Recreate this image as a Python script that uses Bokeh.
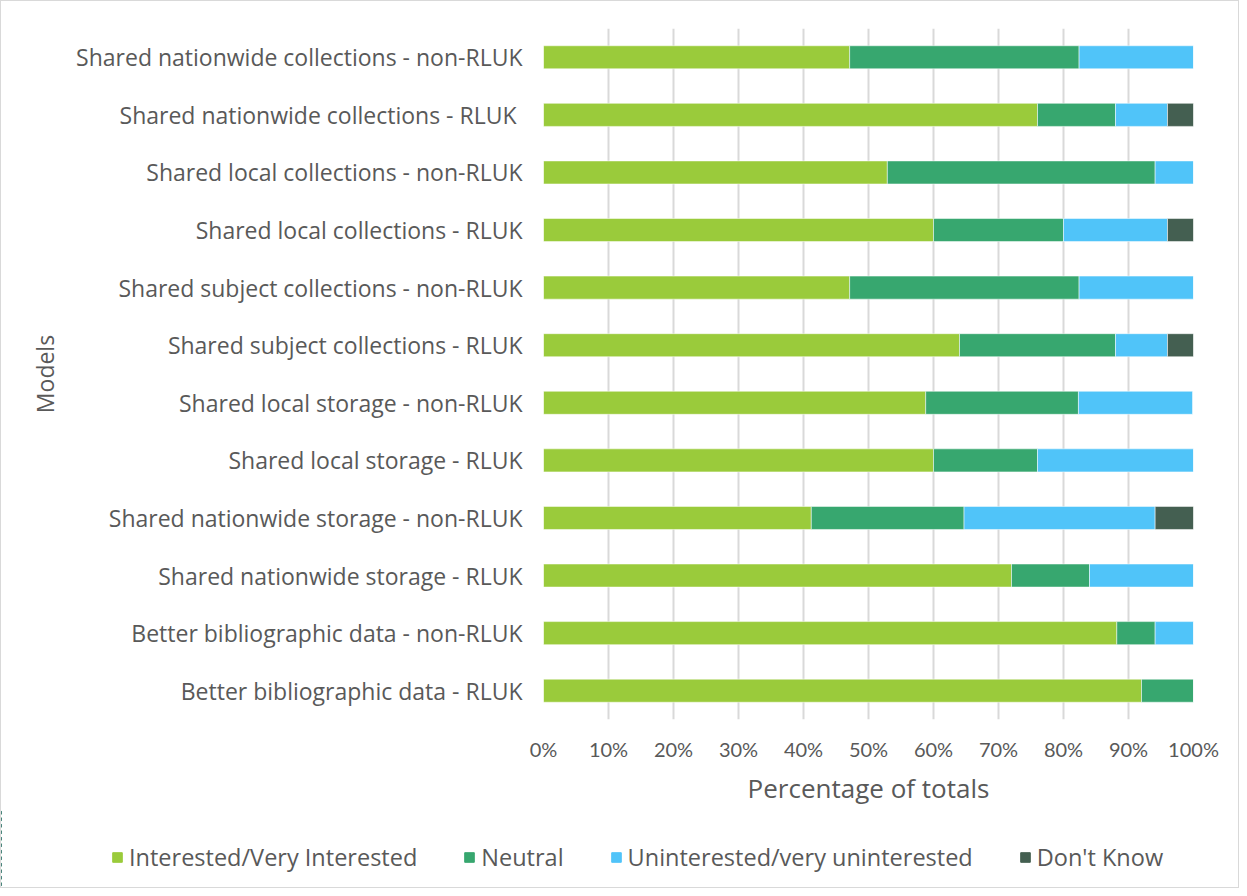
from bokeh.plotting import figure
from bokeh.layouts import column
from bokeh.models import ColumnDataSource, FactorRange, Range1d, Legend, LegendItem, PrintfTickFormatter, FixedTicker
from bokeh.embed import file_html
from bokeh.resources import INLINE

# Categories, listed top to bottom as in the chart
models = [
    "Shared nationwide collections - non-RLUK",
    "Shared nationwide  collections - RLUK",
    "Shared local collections - non-RLUK",
    "Shared local collections - RLUK",
    "Shared subject collections - non-RLUK",
    "Shared subject collections - RLUK",
    "Shared local storage - non-RLUK",
    "Shared local storage - RLUK",
    "Shared nationwide storage - non-RLUK",
    "Shared nationwide storage - RLUK",
    "Better bibliographic data - non-RLUK",
    "Better bibliographic data - RLUK",
]
interested = [47.1, 76.0, 52.9, 60.0, 47.1, 64.0, 58.8, 60.0, 41.2, 72.0, 88.2, 92.0]
neutral = [35.3, 12.0, 41.2, 20.0, 35.3, 24.0, 23.5, 16.0, 23.5, 12.0, 5.9, 8.0]
uninterested = [17.6, 8.0, 5.9, 16.0, 17.6, 8.0, 17.6, 24.0, 29.4, 16.0, 5.9, 0.0]
dont_know = [0.0, 4.0, 0.0, 4.0, 0.0, 4.0, 0.0, 0.0, 5.9, 0.0, 0.0, 0.0]

series = ["Interested/Very Interested", "Neutral", "Uninterested/very uninterested", "Don't Know"]
colors = ["#9ACB3B", "#37A76F", "#50C4F9", "#445F51"]
x_ticks = [0, 10, 20, 30, 40, 50, 60, 70, 80, 90, 100]

FONT = "Open Sans"
TEXT = "#595959"
GRID = "#d9d9d9"
STACK = ["interested", "neutral", "uninterested", "dont_know"]

source = ColumnDataSource(dict(
    model=models,
    interested=interested,
    neutral=neutral,
    uninterested=uninterested,
    dont_know=dont_know,
))

# ---- main chart ----
p = figure(
    width=1237, height=808,
    y_range=FactorRange(*list(reversed(models)), range_padding=0),
    x_range=Range1d(0, 100),
    output_backend="svg", toolbar_location=None,
    min_border_left=542, min_border_right=45, min_border_top=27, min_border_bottom=90,
)
p.outline_line_color = None

renderers = p.hbar_stack(
    STACK, y="model", height=0.4, color=colors, source=source,
    line_color="white", line_width=1, line_alpha=0.5,
)

p.xaxis.ticker = FixedTicker(ticks=x_ticks)
p.xaxis.formatter = PrintfTickFormatter(format="%d%%")
p.xaxis.axis_label = "Percentage of totals"
p.yaxis.axis_label = "Models"

for ax in (p.xaxis[0], p.yaxis[0]):
    ax.axis_line_color = None
    ax.major_tick_line_color = None
    ax.minor_tick_line_color = None
    ax.major_label_text_font = FONT
    ax.major_label_text_color = TEXT
    ax.axis_label_text_font = FONT
    ax.axis_label_text_color = TEXT
    ax.axis_label_text_font_style = "normal"

p.xaxis.major_label_text_font = "Lato"
p.xaxis.major_label_text_font_size = "20px"
p.yaxis.major_label_text_font_size = "23px"
p.xaxis.axis_label_text_font_size = "26px"
p.yaxis.axis_label_text_font_size = "23px"
p.xaxis.major_label_standoff = 11
p.xaxis.axis_label_standoff = 6
p.yaxis.major_label_standoff = 15
p.yaxis.axis_label_standoff = 12

p.ygrid.grid_line_color = None
p.xgrid.grid_line_color = GRID
p.xgrid.grid_line_width = 2
p.xgrid.ticker = FixedTicker(ticks=x_ticks)

# ---- legend strip (below the chart); its bars lie outside its visible range ----
lg = figure(
    width=1237, height=78,
    y_range=FactorRange(*list(reversed(models)), range_padding=0),
    x_range=Range1d(101, 102),
    output_backend="svg", toolbar_location=None,
    x_axis_location=None, y_axis_location=None,
    min_border=0,
)
lg.frame_align = False
lg.outline_line_color = None
lg.xgrid.visible = False
lg.ygrid.visible = False
lg_renderers = lg.hbar_stack(STACK, y="model", height=0.4, color=colors, source=source)

legend = Legend(
    items=[LegendItem(label=s, renderers=[r]) for s, r in zip(series, lg_renderers)],
    orientation="horizontal",
    location=(110, 14),
    glyph_width=12, glyph_height=12,
    label_standoff=6, spacing=46,
    padding=0, margin=0,
    border_line_color=None, background_fill_alpha=0,
    label_text_font=FONT, label_text_font_size="23.5px", label_text_color=TEXT,
    label_height=20,
)
lg.add_layout(legend, "center")

layout = column(p, lg, spacing=0, styles={"border": "1px solid #d9d9d9"})

open("out.html", "w").write(file_html(layout, INLINE))
